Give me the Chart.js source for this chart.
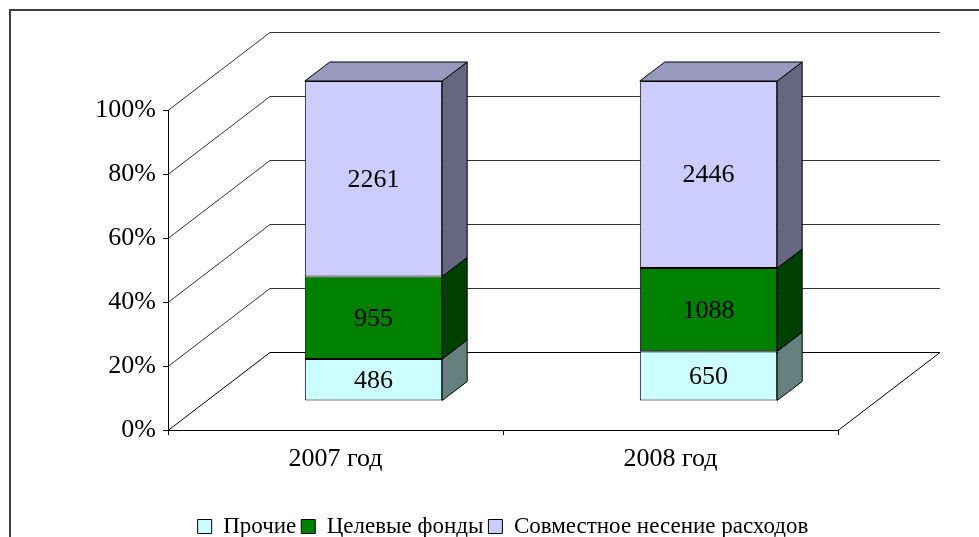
<!DOCTYPE html>
<html>
<head>
<meta charset="utf-8">
<script src="https://cdn.jsdelivr.net/npm/chart.js@4/dist/chart.umd.min.js"></script>
<style>
  html, body { margin: 0; padding: 0; background: #fff; }
</style>
</head>
<body>
<canvas id="shares" width="979" height="537"></canvas>
<script>
const categories = ['2007 год', '2008 год'];
const seriesNames = ['Прочие', 'Целевые фонды', 'Совместное несение расходов'];
const prochie = [486, 650];
const tselevye = [955, 1088];
const sovmestnoe = [2261, 2446];
const yTicks = [0, 20, 40, 60, 80, 100];

const frontColors = ['#CCFFFF', '#008000', '#CCCCFF'];
const sideColors = ['#668080', '#004000', '#666680'];
const topColors = ['#99BFBF', '#006000', '#9999BF'];

// 3d offsets: back wall, position of bars inside the box, bar depth
const WALL = { dx: 102, dy: -78 };
const BAR_SHIFT = { dx: 38, dy: -29 };
const BAR_DEPTH = { dx: 25, dy: -19 };
const FONT = '"Liberation Serif"';

const totals = categories.map((c, i) => prochie[i] + tselevye[i] + sovmestnoe[i]);
const share = arr => arr.map((v, i) => v / totals[i] * 100);
const rawValues = [prochie, tselevye, sovmestnoe];

const box3d = {
    id: 'box3d',
    beforeDraw(chart) {
        const ctx = chart.ctx;
        ctx.save();
        ctx.fillStyle = '#fff';
        ctx.fillRect(0, 0, chart.width, chart.height);
        ctx.strokeStyle = '#404040';
        ctx.lineWidth = 2;
        ctx.beginPath();
        ctx.moveTo(10, chart.height);
        ctx.lineTo(10, 10);
        ctx.lineTo(chart.width, 10);
        ctx.stroke();
        ctx.restore();
    },
    beforeDatasetsDraw(chart) {
        const ctx = chart.ctx;
        const area = chart.chartArea;
        const y = chart.scales.y;
        ctx.save();
        ctx.lineWidth = 1;
        yTicks.forEach(v => {
            const py = Math.round(y.getPixelForValue(v)) + 0.5;
            ctx.strokeStyle = v === 0 ? '#000' : '#333';
            ctx.beginPath();
            ctx.moveTo(area.left, py);
            ctx.lineTo(area.left + WALL.dx, py + WALL.dy);
            ctx.lineTo(area.right + WALL.dx, py + WALL.dy);
            ctx.stroke();
        });
        // right edge of the floor
        const by = Math.round(area.bottom) + 0.5;
        ctx.strokeStyle = '#000';
        ctx.beginPath();
        ctx.moveTo(area.right, by);
        ctx.lineTo(area.right + WALL.dx, by + WALL.dy);
        ctx.stroke();
        ctx.restore();

        ctx.save();
        ctx.translate(BAR_SHIFT.dx, BAR_SHIFT.dy);
    },
    afterDatasetsDraw(chart) {
        const ctx = chart.ctx;
        const last = chart.data.datasets.length - 1;
        ctx.lineWidth = 1;
        ctx.strokeStyle = '#000';
        chart.data.datasets.forEach((ds, d) => {
            chart.getDatasetMeta(d).data.forEach((bar, i) => {
                const left = bar.x - bar.width / 2;
                const right = bar.x + bar.width / 2;
                const top = Math.min(bar.y, bar.base);
                const bottom = Math.max(bar.y, bar.base);
                ctx.fillStyle = sideColors[d];
                ctx.beginPath();
                ctx.moveTo(right, top);
                ctx.lineTo(right + BAR_DEPTH.dx, top + BAR_DEPTH.dy);
                ctx.lineTo(right + BAR_DEPTH.dx, bottom + BAR_DEPTH.dy);
                ctx.lineTo(right, bottom);
                ctx.closePath();
                ctx.fill();
                ctx.stroke();
                if (d === last) {
                    ctx.fillStyle = topColors[d];
                    ctx.beginPath();
                    ctx.moveTo(left, top);
                    ctx.lineTo(left + BAR_DEPTH.dx, top + BAR_DEPTH.dy);
                    ctx.lineTo(right + BAR_DEPTH.dx, top + BAR_DEPTH.dy);
                    ctx.lineTo(right, top);
                    ctx.closePath();
                    ctx.fill();
                    ctx.stroke();
                }
                ctx.fillStyle = '#000';
                ctx.font = '26px ' + FONT;
                ctx.textAlign = 'center';
                ctx.textBaseline = 'middle';
                ctx.fillText(String(rawValues[d][i]), bar.x, (top + bottom) / 2 + 1);
            });
        });
        ctx.restore();
    }
};

function draw() {
    new Chart(document.getElementById('shares').getContext('2d'), {
        type: 'bar',
        data: {
            labels: categories,
            datasets: seriesNames.map((name, d) => ({
                label: name,
                data: share(rawValues[d]),
                backgroundColor: frontColors[d],
                borderColor: '#000',
                borderWidth: 1,
                borderSkipped: false
            }))
        },
        options: {
            responsive: false,
            animation: false,
            layout: {
                padding: { left: 0, right: 141, top: 110, bottom: -11 }
            },
            datasets: {
                bar: { categoryPercentage: 1, barPercentage: 0.41 }
            },
            scales: {
                x: {
                    stacked: true,
                    grid: { offset: true, drawOnChartArea: false, drawTicks: true, tickLength: 5, color: '#000' },
                    border: { color: '#000', width: 1 },
                    ticks: { color: '#000', font: { family: FONT, size: 26 }, padding: 9 },
                    afterFit(scale) { scale.height = 80; }
                },
                y: {
                    stacked: true,
                    min: 0,
                    max: 100,
                    grid: { drawOnChartArea: false, drawTicks: true, tickLength: 5, color: '#000' },
                    border: { color: '#000', width: 1 },
                    ticks: {
                        stepSize: 20,
                        color: '#000',
                        padding: 7,
                        font: { family: FONT, size: 26 },
                        callback: v => v + '%'
                    },
                    afterFit(scale) { scale.width = 168; }
                }
            },
            plugins: {
                tooltip: { enabled: false },
                legend: {
                    position: 'bottom',
                    fullSize: false,
                    labels: {
                        color: '#000',
                        boxWidth: 14,
                        boxHeight: 14,
                        padding: 5,
                        font: { family: FONT, size: 23 }
                    }
                }
            }
        },
        plugins: [box3d]
    });
}

document.fonts.load('26px ' + FONT).then(draw, draw);
</script>
</body>
</html>
